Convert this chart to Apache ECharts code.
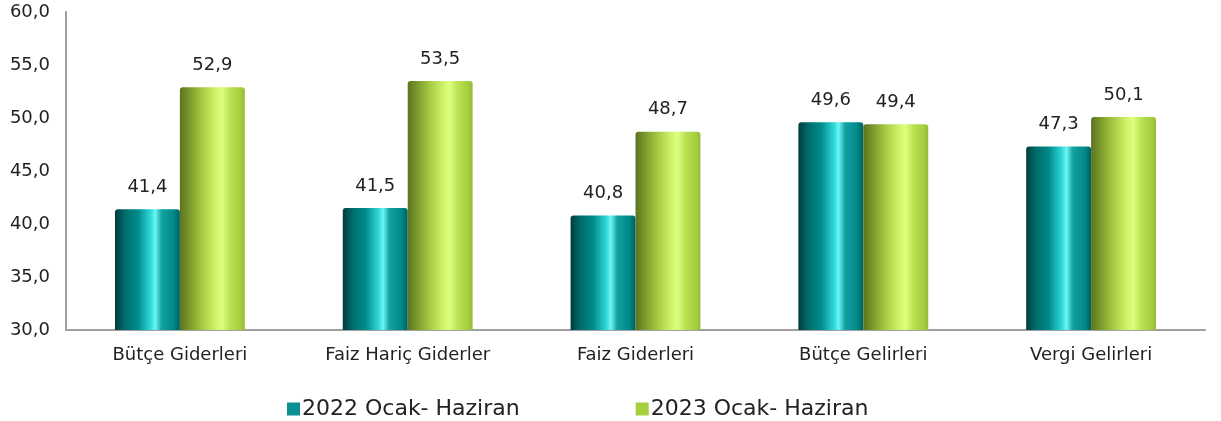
<!DOCTYPE html>
<html><head><meta charset="utf-8">
<script src="https://cdn.jsdelivr.net/npm/echarts@6/dist/echarts.min.js"></script>
<style>html,body{margin:0;padding:0;background:#fff}#c{width:1221px;height:421px}</style>
</head><body><div id="c"></div>
<script>
const categories = ['Bütçe Giderleri','Faiz Hariç Giderler','Faiz Giderleri','Bütçe Gelirleri','Vergi Gelirleri'];
const series2022 = [41.4, 41.5, 40.8, 49.6, 47.3];
const series2023 = [52.9, 53.5, 48.7, 49.4, 50.1];
const seriesNames = ['2022 Ocak- Haziran','2023 Ocak- Haziran'];
const FONT = 'DejaVu Sans';
const fmt = v => v.toFixed(1).replace('.', ',');
function grad(stops){return new echarts.graphic.LinearGradient(0,0,1,0,stops.map(s=>({offset:s[0],color:s[1]})));}
const tealGrad = grad([[0,'#003c3c'],[0.15,'#006b6b'],[0.35,'#008b8b'],[0.55,'#2fd8d8'],[0.62,'#6ff5f5'],[0.72,'#12a0a0'],[0.9,'#008a8a'],[1,'#006060']]);
const greenGrad = grad([[0,'#5a7420'],[0.15,'#7c9a2c'],[0.35,'#a8cc44'],[0.58,'#d4f870'],[0.65,'#dcff80'],[0.78,'#b8e050'],[0.92,'#a6d040'],[1,'#96bc38']]);
const chart = echarts.init(document.getElementById('c'));
chart.setOption({
  animation:false,
  textStyle:{fontFamily:FONT},
  grid:{left:66,right:16,top:12,bottom:91},
  legend:{top:398,left:287,padding:0,itemGap:116,itemWidth:13,itemHeight:13,icon:'rect',
    textStyle:{fontFamily:FONT,fontSize:22,color:'#222',padding:[0,0,0,-3]},
    data:[{name:seriesNames[0],itemStyle:{color:'#0a9090'}},{name:seriesNames[1],itemStyle:{color:'#a6d040'}}]},
  xAxis:{type:'category',data:categories,
    axisLine:{lineStyle:{color:'#a0a0a0',width:2}},axisTick:{show:false},
    axisLabel:{fontFamily:FONT,fontSize:18,color:'#222',margin:16}},
  yAxis:{type:'value',min:30,max:60,interval:5,
    axisLine:{show:true,lineStyle:{color:'#a0a0a0',width:2}},axisTick:{show:false},splitLine:{show:false},
    axisLabel:{fontFamily:FONT,fontSize:18,color:'#222',margin:16,formatter:v=>fmt(v)}},
  series:[
    {name:seriesNames[0],type:'bar',data:series2022,barWidth:'28.5%',barGap:'0%',
     itemStyle:{color:tealGrad,borderRadius:[3,3,0,0]},
     label:{show:true,position:'top',distance:13,fontFamily:FONT,fontSize:18,color:'#222',formatter:p=>fmt(p.value)}},
    {name:seriesNames[1],type:'bar',data:series2023,barWidth:'28.5%',barGap:'0%',
     itemStyle:{color:greenGrad,borderRadius:[3,3,0,0]},
     label:{show:true,position:'top',distance:13,fontFamily:FONT,fontSize:18,color:'#222',formatter:p=>fmt(p.value)}}
  ]
});
</script></body></html>
